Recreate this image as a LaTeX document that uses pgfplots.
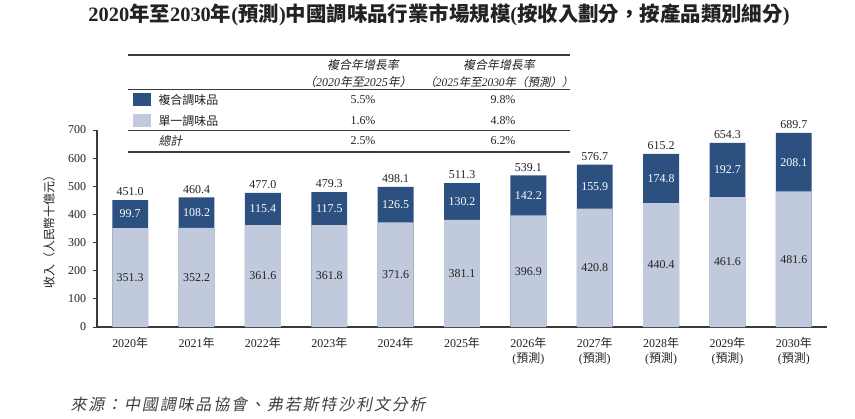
\documentclass[border=0pt]{standalone}
\usepackage{fontspec}
\usepackage{pgfplots}
\usepackage{pgfplotstable}
\pgfplotsset{compat=1.18}
\setmainfont{Liberation Serif}
\newfontfamily\cjk{Noto Sans CJK TC}
\newfontfamily\cjki{Noto Sans CJK TC}[FakeSlant=0.2]
\newcommand\C[1]{{\cjk #1}}
\newcommand\CI[1]{{\cjki #1}}
\definecolor{darkbar}{HTML}{2C5080}
\definecolor{lightbar}{HTML}{C0CADC}
\definecolor{axiscol}{HTML}{3A3A3A}
\definecolor{txt}{HTML}{222222}
\newcommand\fs[1]{\fontsize{#1}{#1}\selectfont}

% revenue, RMB billion: single seasonings, compound seasonings, total
\pgfplotstableread{
x single compound total
0  351.3  99.7 451.0
1  352.2 108.2 460.4
2  361.6 115.4 477.0
3  361.8 117.5 479.3
4  371.6 126.5 498.1
5  381.1 130.2 511.3
6  396.9 142.2 539.1
7  420.8 155.9 576.7
8  440.4 174.8 615.2
9  461.6 192.7 654.3
10 481.6 208.1 689.7
}\revenue

\begin{document}
\begin{tikzpicture}
\useasboundingbox (0,0) rectangle (855bp,-419bp);
\begin{axis}[
  at={(97bp,-327bp)}, anchor=south west,
  scale only axis, width=730bp, height=197bp,
  xmin=-0.5, xmax=10.5, ymin=0, ymax=700,
  axis x line*=bottom, axis y line*=left,
  axis line style={axiscol, line width=1.3pt},
  ytick={0,100,...,700},
  xtick={0,...,10},
  xticklabels={
    2020\C{年}, 2021\C{年}, 2022\C{年}, 2023\C{年}, 2024\C{年}, 2025\C{年},
    {2026\C{年}\\(\C{預測})}, {2027\C{年}\\(\C{預測})}, {2028\C{年}\\(\C{預測})},
    {2029\C{年}\\(\C{預測})}, {2030\C{年}\\(\C{預測})}},
  x tick style={draw=none},
  y tick style={axiscol, line width=0.8pt},
  tick align=outside, major tick length=4.5bp,
  tick label style={font=\fontsize{12}{15}\selectfont, text=txt},
  xticklabel style={align=center, yshift=-2bp},
  yticklabel style={xshift=-3bp},
  /pgf/number format/assume math mode=true,
  every node near coord/.append style={font=\fs{12}},
  nodes near coords={\pgfmathprintnumber[fixed,fixed zerofill,precision=1,assume math mode=true]{\pgfplotspointmeta}},
]
% full bar height = total; the compound segment shows above the single one
\addplot[ybar, bar width=0.54, bar shift=0pt, fill=darkbar, draw=none,
  nodes near coords style={text=txt, anchor=south, yshift=0.5bp}]
  table[x=x, y=total] {\revenue};
% single seasonings, lower segment
\addplot[ybar, bar width=0.54, bar shift=0pt, fill=lightbar, draw=none,
  nodes near coords=]
  table[x=x, y=single] {\revenue};
% segment value labels, centred in each segment
\addplot[draw=none, mark=none, point meta=explicit,
  nodes near coords style={text=txt, anchor=center}]
  table[x=x, y expr=\thisrow{single}/2, meta=single] {\revenue};
\addplot[draw=none, mark=none, point meta=explicit,
  nodes near coords style={text=white, anchor=center}]
  table[x=x, y expr=\thisrow{single}+\thisrow{compound}/2, meta=compound] {\revenue};
\end{axis}
\begin{scope}[x=1bp, y=-1bp, text=txt]
  % title
  \node[font=\fs{20.5}\bfseries] at (439,14.5)
    {2020\C{年至}2030\C{年}(\C{預測})\C{中國調味品行業市場規模}(\C{按收入劃分，按產品類別細分})};
  % growth-rate table
  \draw[line width=1.5bp, axiscol] (128,55) -- (570,55);
  \draw[line width=0.6bp, axiscol] (128,89) -- (570,89);
  \draw[line width=0.6bp, axiscol] (128,130) -- (570,130);
  \draw[line width=1.3bp, axiscol] (128,152) -- (570,152);
  \node[font=\fs{12}] at (363,65) {\CI{複合年增長率}};
  \node[font=\fs{12}\itshape] at (358,82) {\CI{（}2020\CI{年至}2025\CI{年）}};
  \node[font=\fs{12}] at (499,65) {\CI{複合年增長率}};
  \node[font=\fs{11.5}\itshape] at (499,82) {\CI{（}2025\CI{年至}2030\CI{年（預測））}};
  \fill[darkbar] (133,93) rectangle (151,106);
  \fill[lightbar] (133,114) rectangle (151,127);
  \node[font=\fs{12}, anchor=west] at (155,100) {\C{複合調味品}};
  \node[font=\fs{12}, anchor=west] at (155,121) {\C{單一調味品}};
  \node[font=\fs{12}, anchor=west] at (155,141) {\CI{總計}};
  \node[font=\fs{12}] at (363,100) {5.5\%};
  \node[font=\fs{12}] at (363,121) {1.6\%};
  \node[font=\fs{12}] at (363,141) {2.5\%};
  \node[font=\fs{12}] at (503,100) {9.8\%};
  \node[font=\fs{12}] at (503,121) {4.8\%};
  \node[font=\fs{12}] at (503,141) {6.2\%};
  % y-axis title
  \node[font=\fs{12}, rotate=90] at (49,229) {\C{收入（人民幣十億元）}};
  % source note
  \node[font=\fs{16}, anchor=west, text=black!75] at (67,405)
    {\cjki\addfontfeature{LetterSpace=12}來源：中國調味品協會、弗若斯特沙利文分析};
\end{scope}
\end{tikzpicture}
\end{document}
